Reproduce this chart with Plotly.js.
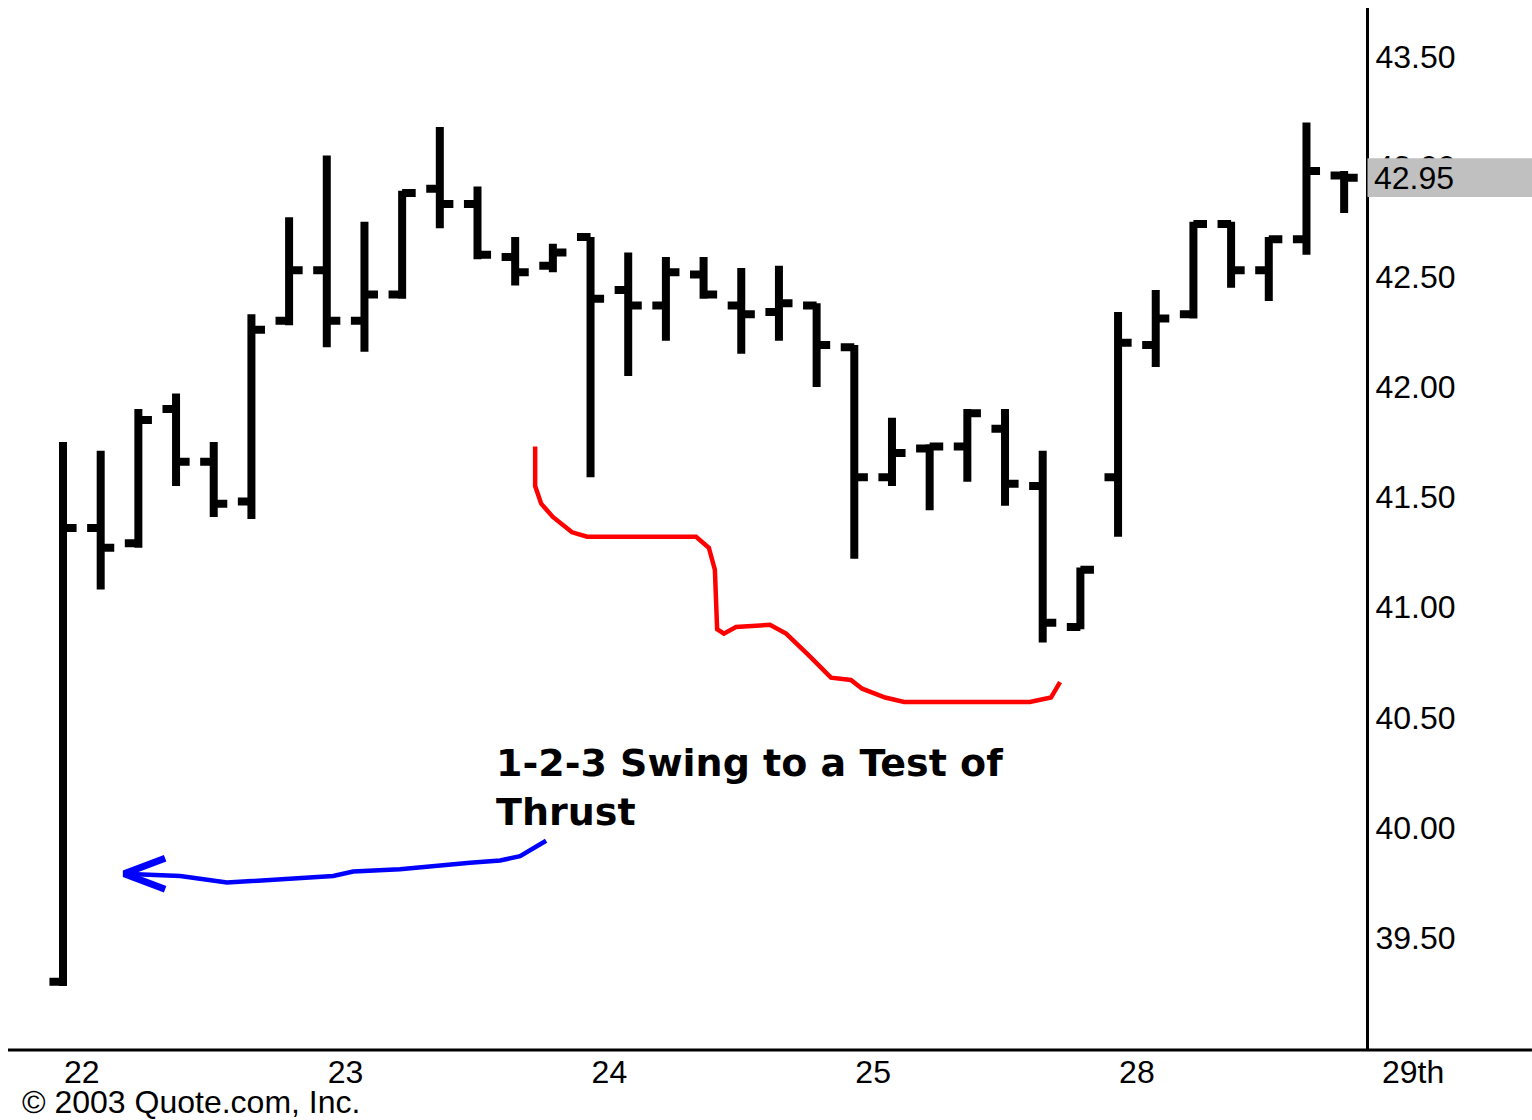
<!DOCTYPE html>
<html>
<head>
<meta charset="utf-8">
<script src="https://cdn.plot.ly/plotly-3.0.1.min.js"></script>
<style>
html,body{margin:0;padding:0;background:#fff;}
#chart{width:1532px;height:1120px;}
</style>
</head>
<body>
<div id="chart"></div>
<script>
// Hourly bars (7 per day)
const openP  = [39.30,41.36,41.29,41.90,41.66,41.48,42.30,42.53,42.30,42.42,42.90,42.83,42.59,42.55,42.68,42.44,42.37,42.51,42.37,42.34,42.37,42.18,41.59,41.72,41.73,41.81,41.55,40.91,41.59,42.19,42.33,42.74,42.53,42.67,42.96];
const highP  = [41.75,41.71,41.90,41.97,41.75,42.33,42.77,43.05,42.75,42.89,43.18,42.91,42.68,42.65,42.68,42.61,42.59,42.59,42.54,42.55,42.38,42.19,41.86,41.74,41.90,41.90,41.71,41.18,42.34,42.44,42.75,42.75,42.68,43.20,42.98];
const lowP   = [39.28,41.08,41.27,41.55,41.41,41.40,42.28,42.18,42.16,42.40,42.72,42.58,42.46,42.52,41.59,42.05,42.21,42.40,42.15,42.21,42.00,41.22,41.55,41.44,41.57,41.46,40.84,40.90,41.32,42.09,42.31,42.45,42.39,42.60,42.79];
const closeP = [41.36,41.27,41.85,41.66,41.47,42.26,42.53,42.30,42.42,42.88,42.83,42.60,42.52,42.61,42.40,42.37,42.52,42.42,42.33,42.38,42.19,41.59,41.70,41.73,41.88,41.56,40.93,41.17,42.20,42.31,42.74,42.53,42.67,42.98,42.95];

const dayTickPos = [0.5, 7.5, 14.5, 21.5, 28.5];
const dayTickText = ['22','23','24','25','28'];
const lastDayLabel = '29th';
const priceTicks = [39.5, 40.0, 40.5, 41.0, 41.5, 42.0, 42.5, 43.0, 43.5];
const priceTickText = ['39.50','40.00','40.50','41.00','41.50','42.00','42.50','43.00','43.50'];
const lastPrice = 42.95;

// Hand-drawn annotation strokes (bar index, price)
const redX = [12.53,12.53,12.69,13.00,13.51,13.91,16.80,17.14,17.30,17.36,17.54,17.86,18.76,19.19,19.80,20.38,20.91,21.21,21.82,22.32,25.66,26.22,26.46];
const redY = [41.73,41.55,41.47,41.41,41.34,41.32,41.32,41.27,41.17,40.90,40.88,40.91,40.92,40.88,40.78,40.68,40.67,40.63,40.59,40.57,40.57,40.59,40.66];
const blueX = [12.82,12.53,12.13,11.60,10.80,8.94,7.70,7.17,5.41,4.35,3.11,1.62];
const blueY = [39.94,39.91,39.87,39.85,39.84,39.81,39.80,39.78,39.76,39.75,39.78,39.79];
const arrowX = [2.71,1.62,2.71];
const arrowY = [39.86,39.79,39.72];

const noteText = '1-2-3 Swing to a Test of<br>Thrust';
const copyText = '\u00A9 2003 Quote.com, Inc.';

const idx = openP.map((_, i) => i);
const FONT = 'Liberation Sans, Arial, sans-serif';
const NOTE_FONT = 'DejaVu Sans, Liberation Sans, sans-serif';

const traces = [
  {
    type: 'ohlc', x: idx, open: openP, high: highP, low: lowP, close: closeP,
    increasing: {line: {color: '#000', width: 8}},
    decreasing: {line: {color: '#000', width: 8}},
    tickwidth: 0.36, hoverinfo: 'skip', showlegend: false
  },
  {type: 'scatter', mode: 'lines', x: redX, y: redY, line: {color: '#ff0000', width: 4.5}, hoverinfo: 'skip', showlegend: false},
  {type: 'scatter', mode: 'lines', x: blueX, y: blueY, line: {color: '#0000ff', width: 4.5}, hoverinfo: 'skip', showlegend: false},
  {type: 'scatter', mode: 'lines', x: arrowX, y: arrowY, line: {color: '#0000ff', width: 7}, hoverinfo: 'skip', showlegend: false}
];

const layout = {
  width: 1532, height: 1120,
  margin: {l: 8, r: 166, t: 8, b: 70, pad: 0},
  paper_bgcolor: '#fff', plot_bgcolor: '#fff',
  font: {family: FONT, color: '#000', size: 32},
  showlegend: false,
  xaxis: {
    range: [-1.46, 34.58], rangeslider: {visible: false},
    tickvals: dayTickPos, ticktext: dayTickText,
    ticks: '', showgrid: false, zeroline: false, showline: false,
    tickfont: {family: FONT, size: 32, color: '#000'}
  },
  yaxis: {
    range: [38.99, 43.72], side: 'right',
    tickvals: priceTicks, ticktext: priceTickText,
    ticks: '', showgrid: false, zeroline: false,
    showline: true, linecolor: '#000', linewidth: 3,
    ticklabelstandoff: 0,
    tickfont: {family: FONT, size: 32, color: '#000'}
  },
  shapes: [
    {type: 'rect', xref: 'paper', yref: 'y', x0: 1.0011, x1: 1.13, y0: lastPrice - 0.088, y1: lastPrice + 0.088,
     fillcolor: '#c0c0c0', line: {width: 0}, layer: 'above'},
    {type: 'line', xref: 'paper', yref: 'paper', x0: 0, x1: 1.1222, y0: 0, y1: 0,
     line: {color: '#000', width: 3}, layer: 'above'}
  ],
  annotations: [
    {xref: 'paper', yref: 'y', x: 1.0044, y: lastPrice, text: lastPrice.toFixed(2), showarrow: false,
     xanchor: 'left', yanchor: 'middle', font: {family: FONT, size: 32, color: '#000'}},
    {xref: 'paper', yref: 'paper', x: 1.0346, y: 0, yshift: -22, text: lastDayLabel, showarrow: false,
     xanchor: 'center', yanchor: 'middle', font: {family: FONT, size: 32, color: '#000'}},
    {xref: 'x', yref: 'y', x: 11.45, y: 40.18, text: noteText, showarrow: false, align: 'left',
     xanchor: 'left', yanchor: 'middle', font: {family: NOTE_FONT, size: 38, color: '#000', weight: 'bold'}},
    {xref: 'paper', yref: 'paper', x: 0.0088, y: 0, yshift: -52, text: copyText, showarrow: false,
     xanchor: 'left', yanchor: 'middle', font: {family: FONT, size: 32, color: '#000'}}
  ]
};

Plotly.newPlot('chart', traces, layout, {displayModeBar: false, staticPlot: true});
</script>
</body>
</html>
